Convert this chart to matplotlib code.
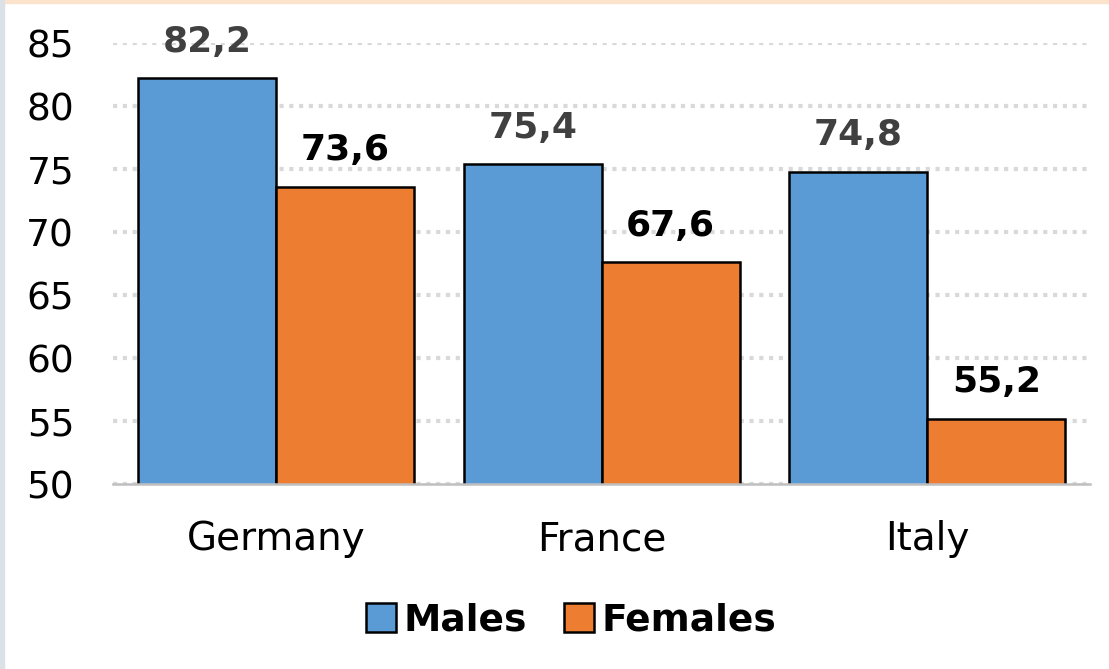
import numpy as np
import matplotlib
matplotlib.use('Agg')
import matplotlib.pyplot as plt
from matplotlib.patches import Rectangle

plt.rcParams['font.family'] = ['DejaVu Sans']

countries = ['Germany', 'France', 'Italy']
males = [82.2, 75.4, 74.8]
females = [73.6, 67.6, 55.2]
yticks = [50, 55, 60, 65, 70, 75, 80, 85]

BLUE = '#5B9BD5'
ORANGE = '#ED7D31'

fig = plt.figure(figsize=(11.09, 6.69), dpi=100)
ax = fig.add_axes([0.102, 0.2765, 0.881, 0.659])

x = np.arange(len(countries))
w = 0.4235
b1 = ax.bar(x - w / 2, males, w, color=BLUE, edgecolor='black', lw=1.8, label='Males', zorder=3)
b2 = ax.bar(x + w / 2, females, w, color=ORANGE, edgecolor='black', lw=1.8, label='Females', zorder=3)

def fmt(v):
    return ('%.1f' % v).replace('.', ',')

for rect, v in zip(b1, males):
    ax.annotate(fmt(v), (rect.get_x() + rect.get_width() / 2, v), xytext=(0, 14),
                textcoords='offset points', ha='center', va='bottom',
                fontsize=26, fontweight='bold', color='#404040')
for rect, v in zip(b2, females):
    ax.annotate(fmt(v), (rect.get_x() + rect.get_width() / 2, v), xytext=(0, 14),
                textcoords='offset points', ha='center', va='bottom',
                fontsize=26, fontweight='bold', color='black')

ax.set_xlim(-0.5, 2.5)
ax.set_ylim(50, 85)
ax.set_yticks(yticks)
ax.set_xticks(x)
ax.set_xticklabels(countries)
ax.tick_params(axis='y', length=0, pad=28, labelsize=27)
ax.tick_params(axis='x', length=0, pad=26, labelsize=28)

for s in ['top', 'right', 'left']:
    ax.spines[s].set_visible(False)
ax.spines['bottom'].set_color('#BFBFBF')
ax.spines['bottom'].set_linewidth(1.8)
ax.spines['bottom'].set_zorder(4)

ax.yaxis.grid(True, color='#D9D9D9', lw=3, ls=(0, (1.0, 1.35)), zorder=0)
ax.set_axisbelow(True)

leg = fig.legend(handles=[b1, b2], loc='center', bbox_to_anchor=(0.515, 0.072), ncol=2,
                 frameon=False, prop={'weight': 'bold', 'size': 27},
                 handlelength=0.8, handleheight=0.8, handletextpad=0.2, columnspacing=1.0)

# thin frame bits at the edges
fig.patches.append(Rectangle((0, 0.995), 1, 0.005, transform=fig.transFigure,
                             color='#FCE4CC', zorder=0))
fig.patches.append(Rectangle((0, 0), 0.004, 1, transform=fig.transFigure,
                             color='#DCE1E8', zorder=0))

fig.savefig('out.png', dpi=100)
